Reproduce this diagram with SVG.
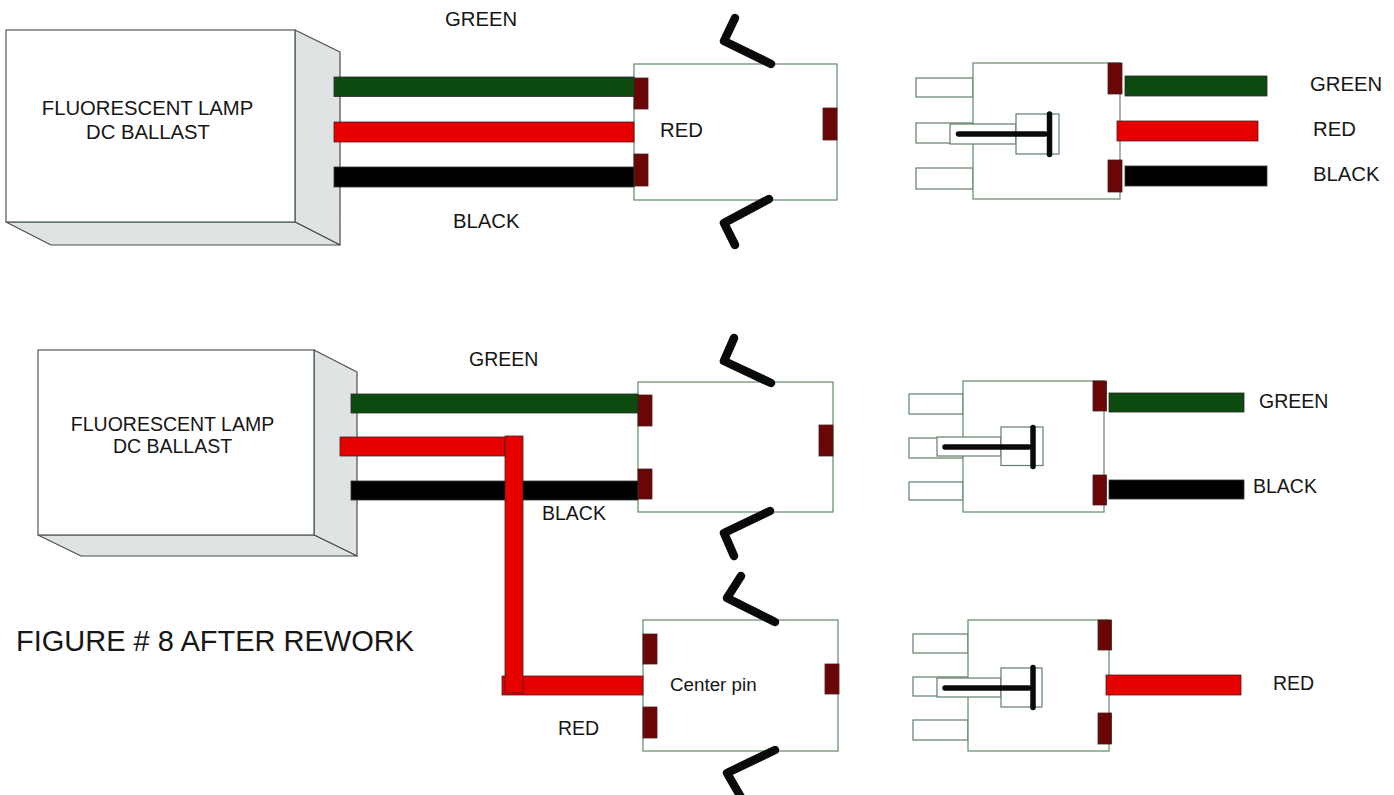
<svg xmlns="http://www.w3.org/2000/svg" width="1394" height="795" viewBox="0 0 1394 795">
<style>
text{font-family:"Liberation Sans",Arial,sans-serif;fill:#161616;font-size:19.500px}
.b{font-size:20.300px}
.m{text-anchor:middle}
.box{fill:#fff;stroke:#4f5a50;stroke-width:1.2}
.shade{fill:#dfe3e4;stroke:#4a4f4c;stroke-width:1.2;stroke-linejoin:round}
.sock{fill:#fff;stroke:#5f8a66;stroke-width:1.2}
.pin{fill:#fff;stroke:#5f7f66;stroke-width:1.2}
.pad{fill:#6a0606;stroke:#4a2020;stroke-width:.8}
.g{fill:#0d4a10;stroke:#2a2a2a;stroke-width:.8}
.r{fill:#e60000;stroke:#4a2020;stroke-width:.8}
.k{fill:#000;stroke:#333;stroke-width:.8}
.clip{fill:none;stroke:#0a0a0a;stroke-width:8.500;stroke-linecap:round;stroke-linejoin:round}
.t{fill:none;stroke:#0a0a0a;stroke-width:5.500;stroke-linecap:round}
</style>
<rect width="1394" height="795" fill="#fff"/>

<g id="ballast-1">
<polygon class="shade" points="295,30 340,52 340,245 295,222"/>
<polygon class="shade" points="6,222 51,245 340,245 295,222"/>
<rect class="box" x="6" y="30" width="289" height="192"/>
<text class="m b" x="147.500" y="115">FLUORESCENT LAMP</text>
<text class="m b" x="148" y="139">DC BALLAST</text>
</g>
<g id="ballast-2">
<polygon class="shade" points="314,350 357,372 357,556 314,535"/>
<polygon class="shade" points="38,535 81,556 357,556 314,535"/>
<rect class="box" x="38" y="350" width="276" height="185"/>
<text class="m" x="172.500" y="431">FLUORESCENT LAMP</text>
<text class="m" x="172.500" y="453">DC BALLAST</text>
</g>

<g id="socket-a">
<rect class="sock" x="634" y="64" width="203" height="136"/>
<rect class="pad" x="634" y="78" width="14" height="31"/>
<rect class="pad" x="634" y="154" width="14" height="32"/>
<rect class="pad" x="823" y="108" width="14" height="32"/>
<polyline class="clip" points="735,18 724,41 771,64"/>
<polyline class="clip" points="735,245 724,223 769,199"/>
</g>
<g id="socket-c">
<rect class="sock" x="638" y="382" width="195" height="130"/>
<rect class="pad" x="638" y="395" width="14" height="31"/>
<rect class="pad" x="638" y="469" width="14" height="30"/>
<rect class="pad" x="819" y="425" width="14" height="31"/>
<polyline class="clip" points="734,338 724,361 771,383"/>
<polyline class="clip" points="734,556 724,533 770,511"/>
</g>
<g id="socket-d">
<rect class="sock" x="643" y="620" width="195" height="131"/>
<rect class="pad" x="643" y="634" width="14" height="30"/>
<rect class="pad" x="643" y="707" width="14" height="31"/>
<rect class="pad" x="825" y="664" width="14" height="30"/>
<polyline class="clip" points="741,576 727,598 775,622"/>
<polyline class="clip" points="775,750 727,773 742,799"/>
</g>

<g id="socket-b">
<rect class="pin" x="916" y="78" width="57" height="19"/>
<rect class="pin" x="916" y="123" width="57" height="20"/>
<rect class="pin" x="916" y="168" width="57" height="21"/>
<rect class="sock" x="973" y="63" width="147" height="136"/>
<rect class="pin" x="950" y="124" width="66" height="20"/>
<rect class="pin" x="1016" y="114" width="43" height="40"/>
<line class="t" x1="958.500" y1="134" x2="1045" y2="134"/>
<line class="t" x1="1049.500" y1="114" x2="1049.500" y2="154.500"/>
<rect class="pad" x="1108" y="63" width="14" height="31"/>
<rect class="pad" x="1108" y="160" width="14" height="32"/>
</g>
<g id="socket-e">
<rect class="pin" x="909" y="394" width="54" height="20"/>
<rect class="pin" x="909" y="438" width="54" height="20"/>
<rect class="pin" x="909" y="482" width="54" height="18"/>
<rect class="sock" x="963" y="381" width="141" height="131"/>
<rect class="pin" x="937" y="437" width="64" height="19"/>
<rect class="pin" x="1001" y="427" width="42" height="38.500"/>
<line class="t" x1="945" y1="447" x2="1029" y2="447"/>
<line class="t" x1="1033" y1="427.500" x2="1033" y2="466.500"/>
<rect class="pad" x="1093" y="381" width="13.500" height="30"/>
<rect class="pad" x="1093" y="475" width="13.500" height="30"/>
</g>
<g id="socket-f">
<rect class="pin" x="913" y="634" width="55" height="19"/>
<rect class="pin" x="913" y="677" width="55" height="19"/>
<rect class="pin" x="913" y="720" width="55" height="20"/>
<rect class="sock" x="968" y="620" width="141" height="131"/>
<rect class="pin" x="937" y="678" width="64" height="19"/>
<rect class="pin" x="1001" y="668" width="41" height="39"/>
<line class="t" x1="945" y1="688" x2="1029" y2="688"/>
<line class="t" x1="1033" y1="667.500" x2="1033" y2="707.500"/>
<rect class="pad" x="1098" y="620" width="13.500" height="30"/>
<rect class="pad" x="1098" y="713" width="13.500" height="31"/>
</g>

<g id="connectors">
<rect class="g" x="334" y="77" width="300" height="19.500"/>
<rect class="r" x="334" y="122" width="300" height="20"/>
<rect class="k" x="334" y="167" width="300" height="20"/>
<rect class="g" x="1125" y="76" width="142" height="20"/>
<rect class="r" x="1117" y="121" width="141" height="20"/>
<rect class="k" x="1125" y="166" width="142" height="20"/>
<rect class="g" x="351" y="394" width="287" height="19"/>
<rect class="r" x="340" y="437" width="165" height="19"/>
<rect class="k" x="351" y="481" width="287" height="19"/>
<rect class="r" x="502" y="676" width="141" height="19"/>
<rect class="r" x="505" y="436" width="18" height="257"/>
<rect class="g" x="1109" y="393" width="135" height="19"/>
<rect class="k" x="1109" y="480" width="135" height="19"/>
<rect class="r" x="1106" y="675" width="135" height="20"/>
</g>

<g id="labels">
<text class="b" x="445" y="26">GREEN</text>
<text class="b" x="453" y="228">BLACK</text>
<text class="b" x="660" y="137">RED</text>
<text class="b" x="1310" y="91">GREEN</text>
<text class="b" x="1313" y="136">RED</text>
<text class="b" x="1313" y="181">BLACK</text>
<text x="469" y="366">GREEN</text>
<text x="542" y="520">BLACK</text>
<text x="1259" y="408">GREEN</text>
<text x="1253" y="493">BLACK</text>
<text x="670" y="691" style="font-size:18.800px">Center pin</text>
<text x="558" y="735">RED</text>
<text x="1273" y="690">RED</text>
<text x="16" y="651" style="font-size:29px">FIGURE # 8 AFTER REWORK</text>
</g>
</svg>
